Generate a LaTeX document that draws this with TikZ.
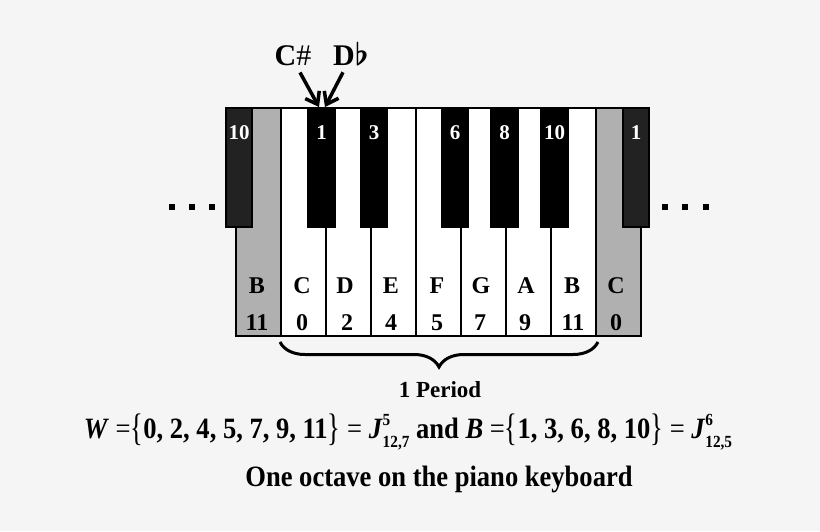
\documentclass[tikz,border=0pt]{standalone}
\usepackage{fontspec}
\usepackage{graphicx}
\setmainfont{Liberation Serif}
\newfontfamily\condfont{Liberation Serif}[FakeStretch=0.9]
\usetikzlibrary{arrows.meta,decorations.pathreplacing}
\definecolor{bgc}{HTML}{F5F5F5}
\definecolor{grayk}{HTML}{B0B0B0}
\definecolor{darkk}{HTML}{222222}
\newcommand\supsub[2]{\rlap{\raisebox{0.42em}{\fontsize{17}{17}\selectfont #1}}\raisebox{-0.32em}{\fontsize{17}{17}\selectfont #2}}
\newcommand\bigbr[1]{\raisebox{-0.1em}{\scalebox{1}[1.3]{\mdseries #1}}}
\tikzset{
  keyline/.style={draw=black, line width=1.5pt},
  whitekey/.style={keyline, fill=white},
  blackkey/.style={keyline, fill=black},
  darkkey/.style={keyline, fill=darkk},
  graykey/.style={keyline, fill=grayk},
  blab/.style={text=white, font=\bfseries\fontsize{21}{21}\selectfont, anchor=base, inner sep=0pt},
  wlab/.style={text=black, font=\bfseries\fontsize{24}{24}\selectfont, anchor=base, inner sep=0pt},
  dotsq/.style={fill=black, minimum size=6pt, inner sep=0pt},
  bigarrow/.style={line width=3.5pt, -{Straight Barb[length=11pt,width=16pt,line width=3.5pt]}},
}
\begin{document}
\begin{tikzpicture}[x=1pt,y=-1pt]
\fill[bgc] (0,0) rectangle (820,531);
\useasboundingbox (0,0) rectangle (820,531);
% white keys
\filldraw[whitekey] (281,108) rectangle (596,336);
\foreach \x in {326,371,461,506,551} \draw[keyline] (\x,227) -- (\x,336);
\draw[keyline] (416,108) -- (416,336);
% gray keys
\filldraw[graykey] (252,108) -- (281,108) -- (281,336) -- (236,336) -- (236,227) -- (252,227) -- cycle;
\filldraw[graykey] (596,108) -- (623,108) -- (623,227) -- (641,227) -- (641,336) -- (596,336) -- cycle;
% dark side keys
\filldraw[darkkey] (226,108) rectangle (252,227);
\filldraw[darkkey] (623,108) rectangle (649,227);
% black keys
\filldraw[blackkey] (308,108) rectangle (335,227);
\filldraw[blackkey] (361,108) rectangle (387,227);
\filldraw[blackkey] (442,108) rectangle (468,227);
\filldraw[blackkey] (491,108) rectangle (518,227);
\filldraw[blackkey] (541,108) rectangle (568,227);
\draw[keyline] (226,108) -- (649,108);
% black key labels
\node[blab] (bl10) at (239,139) {10};
\node[blab] (b1) at (321.5,139) {1};
\node[blab] (b3) at (374,139) {3};
\node[blab] (b6) at (455,139) {6};
\node[blab] (b8) at (504.5,139) {8};
\node[blab] (b10) at (554.5,139) {10};
\node[blab] (br1) at (636,139) {1};
% white key labels
\node[wlab] (lB) at (257,293) {B};
\node[wlab] (lC) at (302,293) {C};
\node[wlab] (lD) at (345,293) {D};
\node[wlab] (lE) at (391,293) {E};
\node[wlab] (lF) at (437,293) {F};
\node[wlab] (lG) at (481,293) {G};
\node[wlab] (lA) at (526,293) {A};
\node[wlab] (lB2) at (572,293) {B};
\node[wlab] (lC2) at (616,293) {C};
\node[wlab] (n11) at (257,330) {11};
\node[wlab] (n0) at (302,330) {0};
\node[wlab] (n2) at (347,330) {2};
\node[wlab] (n4) at (391,330) {4};
\node[wlab] (n5) at (437,330) {5};
\node[wlab] (n7) at (480,330) {7};
\node[wlab] (n9) at (525,330) {9};
\node[wlab] (n11b) at (573,330) {11};
\node[wlab] (n0b) at (616,330) {0};
% dots
\foreach \x/\n in {172/l1,192/l2,212/l3,665/r1,685/r2,706/r3} \node[dotsq] (d\n) at (\x,207) {};
% C# and Db
\node[anchor=base, inner sep=1pt, font=\fontsize{30}{30}\selectfont] (csharp) at (293,65) {\textbf{C}\#};
\node[anchor=base, inner sep=1pt, font=\fontsize{30}{30}\selectfont] (dflat) at (351,65) {\textbf{D}\scalebox{1.25}{\boldmath$\flat$}};
\coordinate (tipc) at (319,107);
\coordinate (tipd) at (325,107);
\draw[bigarrow] (csharp.south) ++(7,6) -- (tipc);
\draw[bigarrow] (dflat.south) ++(-8,6) -- (tipd);
% brace
\coordinate (brl) at (280,342);
\coordinate (brr) at (598,342);
\draw[line width=3pt, decorate, decoration={brace, mirror, amplitude=25pt}] (brl) -- (brr);
\node[anchor=base, inner sep=0pt, font=\bfseries\fontsize{23}{23}\selectfont] (period) at (440,397) {1 Period};
% formula
\node[anchor=base, inner sep=0pt, font=\condfont\bfseries\fontsize{29.5}{29.5}\selectfont] (formula) at (408,438)
 {\textit{W} {\mdseries =}\bigbr{\{}0, 2, 4, 5, 7, 9, 11\bigbr{\}} {\mdseries =} \textit{J}\supsub{5}{12,7} and \textit{B} {\mdseries =}\bigbr{\{}1, 3, 6, 8, 10\bigbr{\}} {\mdseries =} \textit{J}\supsub{6}{12,5}};
\node[anchor=base, inner sep=0pt, font=\condfont\bfseries\fontsize{29.5}{29.5}\selectfont] (caption) at (439,486) {One octave on the piano keyboard};
\end{tikzpicture}
\end{document}
